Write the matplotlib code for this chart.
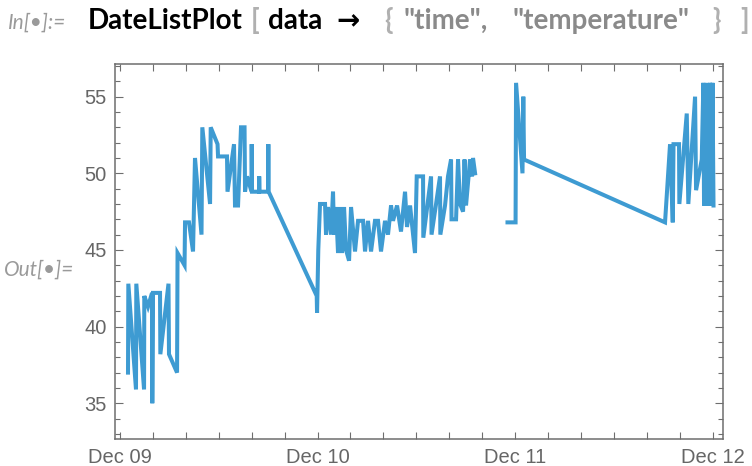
import numpy as np
import pandas as pd
import matplotlib
matplotlib.use('Agg')
from matplotlib import pyplot as plt
import matplotlib.dates as mdates
from matplotlib.ticker import MultipleLocator

plt.rcParams['font.family'] = ['Liberation Sans', 'DejaVu Sans']

# readings: hours after Dec 09 00:00 and temperature (NaN = missing reading)
hours = [0.97, 1.01, 1.94, 1.98, 2.92, 2.95, 3.40, 3.89, 3.92, 4.01, 4.86, 4.90,
         5.89, 5.95, 6.93, 6.99, 7.84, 7.90, 8.38, 8.87, 9.11, 9.90, 10.0, 10.94,
         11.02, 11.85, 11.91, 13.0, 13.06, 13.85, 13.97, 14.34, 14.70, 15.13, 15.19,
         15.43, 15.98, 16.0, 16.04, 16.89, 16.91, 16.95, 17.98, 18.02, 18.06,
         23.90, 23.94, 24.09, 24.30, 24.91, 25.03, 25.27, 25.64, 25.88, 26.0, 26.24,
         26.49, 26.73, 26.97, 27.22, 27.46, 27.83, 28.07, 28.55, 28.92, 29.53, 29.77,
         30.13, 30.50, 30.98, 31.35, 31.71, 32.2, 32.56, 32.93, 33.17, 33.66, 34.14,
         34.63, 34.87, 35.24, 35.6, 35.84, 36.05, 36.82, 36.85, 37.79, 37.85, 38.4,
         38.88, 38.92, 39.49, 39.85, 40.22, 40.28, 40.83, 41.07, 41.31, 41.68, 41.86,
         42.04, 42.53, 42.77, 42.89, 43.14, 45.0,
         47.08, 48.06, 48.12, 48.9, 49.0, 49.09, 66.22, 66.83, 67.16, 67.25, 67.92,
         67.96, 68.86, 69.05, 69.87, 69.99, 70.68, 70.88, 70.96, 71.26, 71.45, 71.69,
         71.87, 71.99, 72.11]
temperature = [37.0, 42.8, 35.9, 42.8, 35.9, 42.0, 41.3, 42.2, 35.0, 42.2, 42.2, 38.2,
               42.8, 38.2, 37.0, 44.8, 44.0, 46.8, 46.8, 44.9, 51.0, 46.0, 53.0, 48.0,
               53.0, 51.9, 51.1, 51.1, 48.8, 51.9, 47.9, 47.9, 53.0, 53.0, 48.8,
               49.8, 48.8, 51.9, 48.8, 48.8, 49.8, 48.8, 48.8, 51.9, 48.8,
               42.0, 40.9, 45.0, 48.0, 48.0, 46.0, 47.8, 46.0, 48.8, 46.0, 47.8,
               44.8, 47.8, 44.8, 47.8, 45.0, 44.3, 47.8, 44.9, 46.9, 46.9, 44.9,
               46.9, 44.9, 46.9, 46.9, 44.9, 46.9, 46.0, 47.9, 46.9, 47.9, 46.2,
               48.8, 46.5, 47.9, 46.0, 44.8, 49.8, 49.8, 45.8, 49.8, 46.0, 48.0,
               49.8, 46.0, 47.9, 49.8, 50.9, 47.0, 47.0, 50.9, 48.0, 47.5, 50.9,
               47.9, 50.9, 49.8, 51.0, 50.0, np.nan,
               46.8, 46.8, 55.9, 50.0, 55.0, 50.9, 46.8, 51.9, 46.8, 51.9, 51.9,
               48.0, 53.9, 48.0, 55.0, 48.9, 50.9, 55.9, 47.9, 55.9, 47.9, 55.9,
               47.9, 55.9, 47.9]

start = pd.Timestamp('2016-12-09')
times = start + pd.to_timedelta(hours, unit='h')

line_color = '#3e9bd2'
frame_color = '#6e6e6e'
label_color = '#666666'

fig = plt.figure(figsize=(7.52, 4.66), dpi=100)
ax = fig.add_axes([115 / 752, 1 - 439.3 / 466, 608.3 / 752, 375.3 / 466])

ax.plot(times, temperature, color=line_color, lw=2.9, solid_joinstyle='miter')

ax.set_xlim(start - pd.Timedelta(hours=0.61), start + pd.Timedelta(hours=73.3))
ax.set_ylim(32.65, 57.13)

ax.xaxis.set_major_locator(mdates.DayLocator())
ax.xaxis.set_major_formatter(mdates.DateFormatter('%b %d'))
ax.xaxis.set_minor_locator(mdates.HourLocator(byhour=[4, 8, 12, 16, 20]))
ax.yaxis.set_major_locator(MultipleLocator(5))
ax.yaxis.set_minor_locator(MultipleLocator(1))

for s in ax.spines.values():
    s.set_color(frame_color)
    s.set_linewidth(1.1)

ax.tick_params(which='both', direction='in', top=True, right=True,
               color=frame_color, width=0.8, labelcolor=label_color,
               labelsize=14.5, pad=6)
ax.tick_params(axis='x', which='both', length=5)
ax.tick_params(axis='y', which='major', length=6)
ax.tick_params(axis='y', which='minor', length=3.5)

# the notebook cell text around the plot
hdr_y = 1 - 29 / 466
fig.text(8 / 752, hdr_y, 'In[\u2022]:=', fontsize=15, style='italic',
         family='Lato', color='#9a9a9a', va='baseline')
bold = dict(fontsize=20, weight='bold', family='Lato', va='baseline')
fig.text(88 / 752, hdr_y, 'DateListPlot', color='black', **bold)
fig.text(251 / 752, hdr_y, '[', color='#b0b0b0', **bold)
fig.text(268 / 752, hdr_y, 'data', color='black', **bold)
fig.text(336 / 752, hdr_y, '\u2192', color='black', fontsize=20, weight='bold',
         family='DejaVu Sans', va='baseline')
fig.text(384 / 752, hdr_y, '{', color='#b0b0b0', **bold)
fig.text(403 / 752, hdr_y, '"time",', color='#8a8a8a', **bold)
fig.text(512 / 752, hdr_y, '"temperature"', color='#8a8a8a', **bold)
fig.text(712 / 752, hdr_y, '}', color='#b0b0b0', **bold)
fig.text(740 / 752, hdr_y, ']', color='#b0b0b0', **bold)

fig.text(4 / 752, 1 - 276 / 466, 'Out[\u2022]=', fontsize=15, style='italic',
         family='Lato', color='#9a9a9a', va='baseline')

fig.savefig('out.png', dpi=100)
